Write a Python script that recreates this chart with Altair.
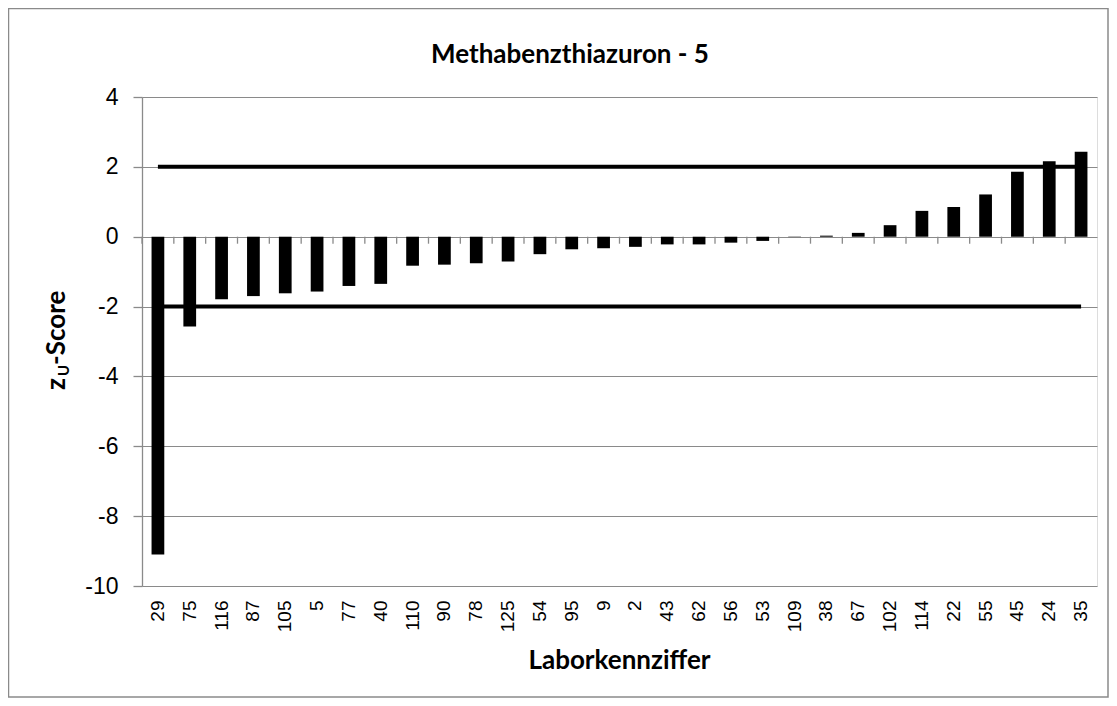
import altair as alt
import pandas as pd

labs = ["29", "75", "116", "87", "105", "5", "77", "40", "110", "90", "78", "125",
        "54", "95", "9", "2", "43", "62", "56", "53", "109", "38", "67", "102",
        "114", "22", "55", "45", "24", "35"]
zscores = [-9.10, -2.57, -1.79, -1.70, -1.62, -1.57, -1.41, -1.35, -0.83, -0.80,
           -0.76, -0.71, -0.50, -0.36, -0.33, -0.29, -0.22, -0.22, -0.17, -0.12,
           -0.01, 0.03, 0.11, 0.33, 0.74, 0.85, 1.21, 1.86, 2.16, 2.43]
upper_limit = 2.0
lower_limit = -2.0
y_ticks = [-10, -8, -6, -4, -2, 0, 2, 4]
y_domain = [-10, 4]

title_text = "Methabenzthiazuron - 5"
x_title = "Laborkennziffer"

W, H = 955, 489
GRAY = "#8a8a8a"

df = pd.DataFrame({"lab": labs, "z": zscores})
lim = pd.DataFrame({
    "lab": labs + labs,
    "v": [upper_limit] * len(labs) + [lower_limit] * len(labs),
    "grp": ["upper"] * len(labs) + ["lower"] * len(labs),
})
one = pd.DataFrame({"k": [0]})

x_axis = alt.Axis(labelAngle=270, ticks=False, tickSize=0, domain=False, grid=False,
                  labelPadding=14, labelFont="Liberation Sans", labelFontSize=19,
                  labelColor="black", title=None)
x_scale = alt.Scale(paddingInner=0, paddingOuter=0)
y_axis = alt.Axis(values=y_ticks, grid=True, gridColor=GRAY, gridWidth=1,
                  domainColor=GRAY, domainWidth=1.3, tickColor=GRAY, tickSize=9,
                  tickWidth=1.3, labelPadding=15, labelFont="Liberation Sans",
                  labelFontSize=23, labelColor="black", title=None,
                  labelExpr="datum.value + ''")
y_scale = alt.Scale(domain=y_domain, nice=False, zero=False)


def xe(**kw):
    return alt.X("lab:N", sort=labs, scale=x_scale, axis=x_axis, **kw)


def ye(field):
    return alt.Y(field, scale=y_scale, axis=y_axis)


border = alt.Chart(one).mark_rect(filled=False, stroke=GRAY, strokeWidth=1.5).encode(
    x=alt.value(-133.5), x2=alt.value(966), y=alt.value(-88.5), y2=alt.value(600)
)

bars = alt.Chart(df).mark_bar(color="black", width=alt.RelativeBandSize(0.4)).encode(
    x=xe(), y=ye("z:Q"), y2=alt.datum(0)
)

cat_ticks = alt.Chart(df).mark_rule(color=GRAY, strokeWidth=1.3).encode(
    x=xe(bandPosition=0), y=alt.Y(datum=0, scale=y_scale, axis=y_axis), y2=alt.datum(-0.2)
)

limits = alt.Chart(lim).mark_line(color="black", strokeWidth=4).encode(
    x=xe(), y=ye("v:Q"), detail="grp:N"
)

txt = dict(font="Lato", fontWeight="bold", color="black", baseline="alphabetic")

title = alt.Chart(one).mark_text(text=title_text, fontSize=26, align="center", **txt).encode(
    x=alt.value(428), y=alt.value(-34)
)
xtitle = alt.Chart(one).mark_text(text=x_title, fontSize=26, align="center", **txt).encode(
    x=alt.value(W / 2), y=alt.value(572)
)
yt_z = alt.Chart(one).mark_text(text="z", fontSize=26, align="left", angle=270, **txt).encode(
    x=alt.value(-77), y=alt.value(293)
)
yt_u = alt.Chart(one).mark_text(text="U", fontSize=15, align="left", angle=270, **txt).encode(
    x=alt.value(-73), y=alt.value(279)
)
yt_s = alt.Chart(one).mark_text(text="-Score", fontSize=26, align="left", angle=270, **txt).encode(
    x=alt.value(-77), y=alt.value(268)
)

chart = alt.layer(
    bars, cat_ticks, limits, border, title, xtitle, yt_z, yt_u, yt_s
).properties(
    width=W, height=H,
    autosize=alt.AutoSizeParams(type="none"),
    padding={"left": 134, "top": 89, "right": 12, "bottom": 112},
).configure_view(stroke="transparent").configure(background="white")

chart.save("out.html", embed_options={"renderer": "svg", "actions": False})
